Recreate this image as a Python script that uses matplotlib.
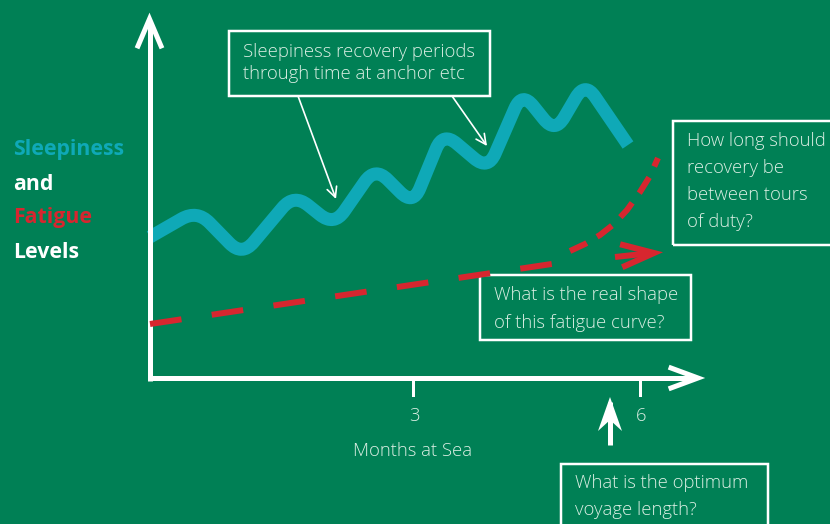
import numpy as np
import matplotlib.pyplot as plt
from matplotlib.patches import Rectangle, PathPatch
from matplotlib.path import Path

BG = '#008055'
TEAL = '#0fa9b7'
RED = '#d7262f'
WHITE = '#ffffff'
BOXTXT = '#dcefe4'

# schematic canvas units: x to the right, level upward (0..830, 0..524)
# sleepiness wave, turning points
sleep_x = [150, 197, 242, 294, 334, 375, 413, 443, 488, 522, 555, 585, 628]
sleep_y = [287, 314, 268, 330, 298, 357, 319, 392, 354, 432, 391, 442, 379]

# fatigue curve (dashed): straight part, then the rising bend
fat_x = [150, 565]
fat_y = [200, 262]
bend_x = [570, 585, 600, 614, 627, 640, 650, 658]
bend_y = [273, 280, 289, 300, 314, 332, 348, 366]

# x axis ticks
tick_x = [413, 640]
tick_labels = ['3', '6']

side_words = ['Sleepiness', 'and', 'Fatigue', 'Levels']
side_colors = [TEAL, WHITE, RED, WHITE]
side_y = [375, 340, 306, 272]

# text boxes: (left, bottom, right, top), text lines, line y positions
boxes = [
    ((229, 428, 490, 493), ['Sleepiness recovery periods', 'through time at anchor etc'], [472, 450]),
    ((673, 279, 840, 403), ['How long should', 'recovery be', 'between tours', 'of duty?'], [383, 356, 329, 302]),
    ((480, 184, 691, 249), ['What is the real shape', 'of this fatigue curve?'], [229, 201]),
    ((561, -10, 768, 60), ['What is the optimum', 'voyage length?'], [41, 14]),
]


def rounded_path(xs, ys, r):
    # polyline whose inner corners are rounded with quadratic curves
    pts = np.column_stack([xs, ys]).astype(float)
    verts = [pts[0]]
    codes = [Path.MOVETO]
    for i in range(1, len(pts) - 1):
        a, p, b = pts[i - 1], pts[i], pts[i + 1]
        da = (a - p) / np.linalg.norm(a - p)
        db = (b - p) / np.linalg.norm(b - p)
        ra = min(r, np.linalg.norm(a - p) / 2)
        rb = min(r, np.linalg.norm(b - p) / 2)
        verts += [p + da * ra, p, p + db * rb]
        codes += [Path.LINETO, Path.CURVE3, Path.CURVE3]
    verts.append(pts[-1])
    codes.append(Path.LINETO)
    return Path(verts, codes)


fig = plt.figure(figsize=(8.3, 5.24), dpi=100, facecolor=BG)
ax = fig.add_axes([0, 0, 1, 1])
ax.set_facecolor(BG)
ax.set_xlim(0, 830)
ax.set_ylim(0, 524)
ax.axis('off')

px = 72 / 100  # points per pixel

# axes with open arrow heads
ax.plot([150, 150], [143.5, 502], color=WHITE, lw=5 * px, solid_capstyle='butt')
ax.plot([138, 149.5, 161], [478, 505, 478], color=WHITE, lw=5 * px, solid_joinstyle='miter')
ax.plot([147.5, 695], [146, 146], color=WHITE, lw=5 * px, solid_capstyle='butt')
ax.plot([671, 698, 671], [156, 146, 136], color=WHITE, lw=5 * px, solid_joinstyle='miter')

for tx, tl in zip(tick_x, tick_labels):
    ax.plot([tx, tx], [144, 129], color=WHITE, lw=3 * px)
    ax.text(tx + 1, 108, tl, color=BOXTXT, fontsize=13.3, ha='center', va='center',
            family='Open Sans', fontweight='light')
ax.text(413, 73, 'Months at Sea', color=BOXTXT, fontsize=13.3, ha='center', va='center',
        family='Open Sans', fontweight='light')

# upward arrow under the x axis
ax.plot([610, 610], [79, 122], color=WHITE, lw=5 * px, solid_capstyle='butt')
ax.fill([598, 610, 622, 610], [93, 127, 93, 104], color=WHITE, lw=0)

# curves
ax.add_patch(PathPatch(rounded_path(sleep_x, sleep_y, 18), fill=False, edgecolor=TEAL,
                       lw=13 * px, capstyle='butt', joinstyle='round'))
ax.plot(fat_x, fat_y, color=RED, lw=6 * px, linestyle=(0, (5.3, 5.1)),
        dash_capstyle='butt')
ax.plot(bend_x, bend_y, color=RED, lw=6 * px, linestyle=(0, (3.1, 2.0)),
        dash_capstyle='butt')

# red arrow
ax.plot([615, 652], [267, 271], color=RED, lw=6 * px, solid_capstyle='butt')
ax.plot([623, 654, 625], [279, 271, 258], color=RED, lw=6 * px, solid_joinstyle='miter')

# side label
for w, c, y in zip(side_words, side_colors, side_y):
    ax.text(13, y, w, color=c, fontsize=15.3, fontweight='bold', family='Open Sans',
            ha='left', va='center')

for (l, b, r, t), lines, ys in boxes:
    ax.add_patch(Rectangle((l, b), r - l, t - b, fill=False, edgecolor=WHITE,
                           lw=2.5 * px, clip_on=False))
    for s, y in zip(lines, ys):
        ax.text(l + 14, y, s, color=BOXTXT, fontsize=13.3, family='Open Sans',
                fontweight='light', ha='left', va='center')

# pointers from the top box
ax.annotate('', xy=(336, 325), xytext=(298, 428),
            arrowprops=dict(arrowstyle='->', color=WHITE, lw=1.2, mutation_scale=18,
                            shrinkA=0, shrinkB=0))
ax.annotate('', xy=(487, 378), xytext=(452, 428),
            arrowprops=dict(arrowstyle='->', color=WHITE, lw=1.2, mutation_scale=18,
                            shrinkA=0, shrinkB=0))

fig.savefig('out.png', dpi=100, facecolor=BG)
